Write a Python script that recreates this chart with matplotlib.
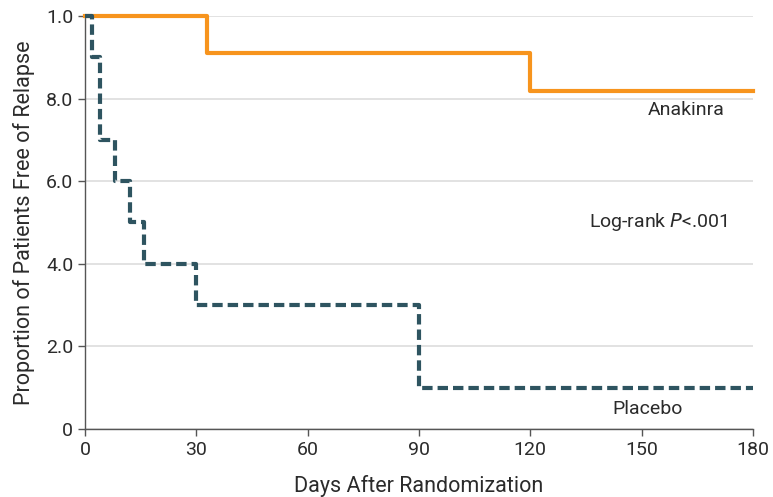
import matplotlib.pyplot as plt
import numpy as np

# Kaplan-Meier step data (days, proportion free of relapse)
anakinra_days = [0, 33, 120, 180]
anakinra_surv = [1.0, 0.909, 0.818, 0.818]

placebo_days = [0, 2, 4, 8, 12, 16, 30, 90, 180]
placebo_surv = [1.0, 0.9, 0.7, 0.6, 0.5, 0.4, 0.3, 0.1, 0.1]

x_ticks = [0, 30, 60, 90, 120, 150, 180]
y_ticks = [0, 0.2, 0.4, 0.6, 0.8, 1.0]
y_tick_labels = ['0', '2.0', '4.0', '6.0', '8.0', '1.0']

plt.rcParams['font.family'] = ['Liberation Sans Narrow', 'Roboto', 'DejaVu Sans']

fig = plt.figure(figsize=(7.73, 4.97), dpi=100)
ax = fig.add_axes([0.110, 0.137, 0.864, 0.831])

orange = '#F7941D'
teal = '#2E5460'
text_col = '#2b2b2b'

ax.step(anakinra_days, anakinra_surv, where='post', color=orange,
        linewidth=3, clip_on=False, zorder=3)
ax.step(placebo_days, placebo_surv, where='post', color=teal,
        linewidth=3, linestyle=(0, (2.5, 1.2)), clip_on=False, zorder=3)

ax.set_xlim(0, 180)
ax.set_ylim(0, 1.0)
ax.set_xticks(x_ticks)
ax.set_yticks(y_ticks)
ax.set_yticklabels(y_tick_labels)

ax.grid(axis='y', color='#dddddd', linewidth=1.2)
ax.set_axisbelow(True)

for side in ['top', 'right']:
    ax.spines[side].set_visible(False)
for side in ['left', 'bottom']:
    ax.spines[side].set_color('#555555')
    ax.spines[side].set_linewidth(1.0)

ax.tick_params(axis='both', colors='#555555', labelcolor=text_col,
               labelsize=14, length=5, width=1.0)

ax.set_xlabel('Days After Randomization', fontsize=15.5, color=text_col, labelpad=12)
ax.set_ylabel('Proportion of Patients Free of Relapse', fontsize=15.5,
              color=text_col, labelpad=8)

ax.text(162, 0.772, 'Anakinra', ha='center', va='center', fontsize=14, color=text_col)
ax.text(154.5, 0.50, 'Log-rank $\\it{P}$<.001', ha='center', va='center',
        fontsize=14, color=text_col)
ax.text(151.7, 0.048, 'Placebo', ha='center', va='center', fontsize=14, color=text_col)

plt.savefig('out.png', dpi=100)
